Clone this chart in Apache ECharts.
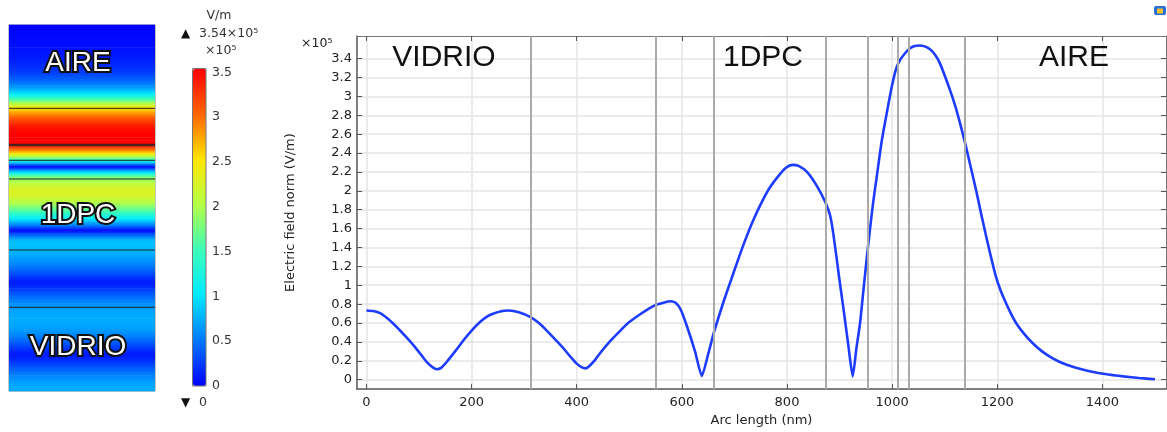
<!DOCTYPE html>
<html>
<head>
<meta charset="utf-8">
<script src="https://cdn.jsdelivr.net/npm/echarts@6/dist/echarts.min.js"></script>
<style>
  html, body { margin: 0; padding: 0; background: #fff; }
  #chart { width: 1167px; height: 432px; }
</style>
</head>
<body>
<div id="chart"></div>
<script>
// Electric field norm along the cut line through glass / 1D photonic crystal / air
// Arc length in nm
const arcLength = [
  0, 13, 26, 42, 58, 74, 90, 103, 115, 126, 134, 142, 153, 170, 185, 200, 216, 230, 242, 256,
  270, 290, 312, 328, 343, 360, 375, 390, 400, 410, 417, 425, 435, 445, 464, 483, 500, 520, 535, 550,
  565, 578, 588, 598, 610, 625, 638, 650, 661, 679, 692, 705, 720, 736, 752, 768, 787, 798, 810, 822,
  838, 857, 873, 882, 888, 900, 907, 917, 925, 932, 939, 946, 952, 958, 964, 971, 980, 990, 1000, 1008,
  1015, 1025, 1034, 1043, 1052, 1062, 1072, 1082, 1091, 1110, 1120, 1129, 1140, 1150, 1160, 1170, 1178, 1188, 1197, 1206,
  1215, 1226, 1237, 1252, 1268, 1284, 1300, 1316, 1332, 1348, 1364, 1383, 1402, 1420, 1440, 1470, 1500
];
// Electric field norm, in units of 1e5 V/m
const fieldNorm = [
  0.733, 0.727, 0.705, 0.64, 0.555, 0.46, 0.36, 0.27, 0.185, 0.13, 0.11, 0.125, 0.19, 0.31, 0.42, 0.52, 0.61, 0.67, 0.70, 0.725,
  0.733, 0.715, 0.663, 0.60, 0.52, 0.42, 0.33, 0.23, 0.17, 0.13, 0.12, 0.15, 0.21, 0.285, 0.41, 0.52, 0.61, 0.69, 0.745, 0.79,
  0.815, 0.83, 0.815, 0.74, 0.56, 0.30, 0.04, 0.27, 0.50, 0.82, 1.03, 1.24, 1.47, 1.69, 1.88, 2.04, 2.18, 2.245, 2.275, 2.265,
  2.20, 2.05, 1.88, 1.74, 1.55, 1.05, 0.77, 0.35, 0.035, 0.33, 0.60, 0.98, 1.30, 1.60, 1.88, 2.16, 2.52, 2.83, 3.12, 3.30,
  3.385, 3.46, 3.51, 3.535, 3.54, 3.53, 3.50, 3.44, 3.35, 3.07, 2.90, 2.72, 2.48, 2.24, 2.00, 1.74, 1.54, 1.30, 1.10, 0.95,
  0.83, 0.70, 0.59, 0.48, 0.383, 0.305, 0.244, 0.195, 0.157, 0.128, 0.105, 0.082, 0.063, 0.048, 0.035, 0.018, 0.004
];
// Material interfaces along the cut line (nm)
const interfaces = [312, 550, 661, 873, 953, 1011, 1032, 1138];
const regionNames = ['VIDRIO', '1DPC', 'AIRE'];

// Tick values
const xTicks = [0, 200, 400, 600, 800, 1000, 1200, 1400];
const yTicks = [0, 0.2, 0.4, 0.6, 0.8, 1, 1.2, 1.4, 1.6, 1.8, 2, 2.2, 2.4, 2.6, 2.8, 3, 3.2, 3.4];
const colorbarTicks = [0, 0.5, 1, 1.5, 2, 2.5, 3, 3.5];

// Cross-section geometry: arc length of each layer edge and its height in the 2D slab drawing
const layerArc = [0, 312, 550, 873, 953, 1011, 1032, 1138, 1500];
const layerHeight = [0, 83.7, 141, 212, 230.7, 245.3, 246.7, 282.7, 366];

// Rainbow colour table
const rainbow = ['#0000ff', '#0078ff', '#00eaff', '#3cffb8', '#b4ff46', '#ffe600', '#ff6400', '#ff0000'];

const fieldMax = Math.max(...fieldNorm);
const fieldMin = Math.min(...fieldNorm);

function slabHeight(s) {
  for (let i = 0; i < layerArc.length - 1; i++) {
    if (s <= layerArc[i + 1]) {
      const t = (s - layerArc[i]) / (layerArc[i + 1] - layerArc[i]);
      return layerHeight[i] + t * (layerHeight[i + 1] - layerHeight[i]);
    }
  }
  return layerHeight[layerHeight.length - 1];
}
function colorOf(v) {
  return echarts.color.lerp(Math.max(0, Math.min(1, v / fieldMax)), rainbow);
}

const curve = arcLength.map((s, i) => [s, fieldNorm[i]]);
const slabBands = [];
for (let i = 0; i < arcLength.length - 1; i++) {
  slabBands.push([slabHeight(arcLength[i]), slabHeight(arcLength[i + 1]), fieldNorm[i], fieldNorm[i + 1]]);
}
const slabEdges = layerHeight.slice(1, -1).map(h => [h]);

const chart = echarts.init(document.getElementById('chart'), null, { renderer: 'canvas' });
const FONT = 'DejaVu Sans';
const axisColor = '#555';
const plain = v => String(v);

chart.setOption({
  animation: false,
  backgroundColor: '#fff',
  textStyle: { fontFamily: FONT },
  grid: [
    { left: 357, top: 36, right: 1, bottom: 39, show: false },
    { left: 193, top: 68.8, width: 13, height: 317.2, show: false },
    { left: 9, top: 25, width: 146, height: 366, show: true, borderColor: '#888', borderWidth: 1, backgroundColor: 'transparent' }
  ],
  xAxis: [
    {
      gridIndex: 0, type: 'value', min: -18, max: 1521, position: 'bottom',
      name: 'Arc length (nm)', nameLocation: 'middle', nameGap: 20,
      nameTextStyle: { fontSize: 13, color: '#222', fontFamily: FONT },
      axisLine: { show: true, onZero: false, lineStyle: { color: axisColor, width: 1.5 } },
      axisTick: { show: true, inside: true, length: 5, customValues: xTicks, lineStyle: { color: axisColor } },
      axisLabel: { show: true, customValues: xTicks, formatter: plain, margin: 7, fontSize: 13, color: '#222', fontFamily: FONT },
      splitLine: { show: true, lineStyle: { color: '#e4e4e4', width: 1.5 } }
    },
    {
      gridIndex: 0, type: 'value', min: -18, max: 1521, position: 'top',
      axisLine: { show: true, onZero: false, lineStyle: { color: '#777', width: 1 } },
      axisTick: { show: true, inside: true, length: 5, customValues: xTicks, lineStyle: { color: axisColor } },
      axisLabel: { show: false }, splitLine: { show: false }
    },
    { gridIndex: 1, type: 'value', min: 0, max: 1, show: false },
    { gridIndex: 2, type: 'value', min: 0, max: 1, show: false }
  ],
  yAxis: [
    {
      gridIndex: 0, type: 'value', min: -0.1, max: 3.64, position: 'left',
      name: 'Electric field norm (V/m)', nameLocation: 'middle', nameGap: 60, nameRotate: 90,
      nameTextStyle: { fontSize: 13, color: '#222', fontFamily: FONT },
      axisLine: { show: true, onZero: false, lineStyle: { color: axisColor, width: 1.5 } },
      axisTick: { show: true, inside: true, length: 5, customValues: yTicks, lineStyle: { color: axisColor } },
      axisLabel: { show: true, customValues: yTicks, formatter: plain, margin: 5, fontSize: 13, color: '#222', fontFamily: FONT },
      splitLine: { show: true, lineStyle: { color: '#e4e4e4', width: 1.5 } }
    },
    {
      gridIndex: 0, type: 'value', min: -0.1, max: 3.64, position: 'right',
      axisLine: { show: true, onZero: false, lineStyle: { color: '#777', width: 1 } },
      axisTick: { show: true, inside: true, length: 5, customValues: yTicks, lineStyle: { color: axisColor } },
      axisLabel: { show: false }, splitLine: { show: false }
    },
    {
      gridIndex: 1, type: 'value', min: 0, max: fieldMax, position: 'right',
      axisLine: { show: false }, axisTick: { show: false }, splitLine: { show: false },
      axisLabel: { show: true, customValues: colorbarTicks, formatter: plain, margin: 6, fontSize: 12.5, color: '#333', fontFamily: FONT }
    },
    { gridIndex: 2, type: 'value', min: 0, max: layerHeight[layerHeight.length - 1], show: false }
  ],
  visualMap: {
    type: 'continuous', min: 0, max: fieldMax, orient: 'vertical',
    left: 193, top: 68.8, itemWidth: 13, itemHeight: 317.2, padding: 0,
    calculable: false, showLabel: false, text: ['', ''], hoverLink: false,
    inRange: { color: rainbow }, seriesIndex: 2
  },
  series: [
    {
      // material interfaces
      type: 'line', xAxisIndex: 0, yAxisIndex: 0, data: [], z: 1, silent: true,
      markLine: {
        silent: true, symbol: ['none', 'none'], label: { show: false },
        lineStyle: { color: '#aaaaaa', width: 2, type: 'solid' },
        data: interfaces.map(x => ({ xAxis: x }))
      }
    },
    {
      type: 'line', xAxisIndex: 0, yAxisIndex: 0, data: curve, z: 3,
      showSymbol: false, smooth: 0.2,
      lineStyle: { color: '#1e3cff', width: 2.6 }
    },
    {
      // field map of the cross section
      type: 'custom', xAxisIndex: 3, yAxisIndex: 3, data: slabBands, silent: true, z: 2,
      renderItem: function (params, api) {
        const p0 = api.coord([0, api.value(0)]);
        const p1 = api.coord([1, api.value(1)]);
        return {
          type: 'rect',
          shape: { x: p0[0], y: p1[1] - 0.3, width: p1[0] - p0[0], height: p0[1] - p1[1] + 0.6 },
          style: {
            fill: new echarts.graphic.LinearGradient(0, 0, 0, 1, [
              { offset: 0, color: colorOf(api.value(3)) },
              { offset: 1, color: colorOf(api.value(2)) }
            ])
          }
        };
      }
    },
    {
      // layer edges in the cross section
      type: 'custom', xAxisIndex: 3, yAxisIndex: 3, data: slabEdges, silent: true, z: 3,
      renderItem: function (params, api) {
        const a = api.coord([0, api.value(0)]);
        const b = api.coord([1, api.value(0)]);
        return { type: 'line', shape: { x1: a[0], y1: a[1], x2: b[0], y2: b[1] }, style: { stroke: '#222', lineWidth: 1 } };
      }
    }
  ],
  graphic: [
    // main plot scale factor and region names
    { type: 'text', z: 100, x: 301, y: 44, style: { text: '×10⁵', font: '12.5px "DejaVu Sans"', fill: '#222', verticalAlign: 'middle' } },
    { type: 'text', z: 100, x: 444, y: 58, style: { text: regionNames[0], font: '30px "Liberation Sans"', fill: '#111', align: 'center', verticalAlign: 'middle' } },
    { type: 'text', z: 100, x: 763, y: 58, style: { text: regionNames[1], font: '30px "Liberation Sans"', fill: '#111', align: 'center', verticalAlign: 'middle' } },
    { type: 'text', z: 100, x: 1074, y: 58, style: { text: regionNames[2], font: '30px "Liberation Sans"', fill: '#111', align: 'center', verticalAlign: 'middle' } },
    // cross-section labels
    { type: 'text', x: 78, y: 63.5, z: 100, style: { text: regionNames[2], font: '28px "Liberation Sans"', fill: '#fff', stroke: '#111', lineWidth: 4, strokeFirst: true, align: 'center', verticalAlign: 'middle' } },
    { type: 'text', x: 78, y: 215.5, z: 100, style: { text: regionNames[1], font: '28px "Liberation Sans"', fill: '#fff', stroke: '#111', lineWidth: 4, strokeFirst: true, align: 'center', verticalAlign: 'middle' } },
    { type: 'text', x: 78, y: 347.5, z: 100, style: { text: regionNames[0], font: '28px "Liberation Sans"', fill: '#fff', stroke: '#111', lineWidth: 4, strokeFirst: true, align: 'center', verticalAlign: 'middle' } },
    // colour bar header / footer
    { type: 'text', x: 219, y: 16, style: { text: 'V/m', font: '12.5px "DejaVu Sans"', fill: '#333', align: 'center', verticalAlign: 'middle' } },
    { type: 'text', x: 181, y: 34, style: { text: '▲', font: '12px "DejaVu Sans"', fill: '#111', verticalAlign: 'middle' } },
    { type: 'text', x: 199, y: 34, style: { text: fieldMax.toFixed(2) + '×10⁵', font: '12.5px "DejaVu Sans"', fill: '#333', verticalAlign: 'middle' } },
    { type: 'text', x: 205, y: 51, style: { text: '×10⁵', font: '12.5px "DejaVu Sans"', fill: '#333', verticalAlign: 'middle' } },
    { type: 'text', x: 181, y: 403, style: { text: '▼', font: '12px "DejaVu Sans"', fill: '#111', verticalAlign: 'middle' } },
    { type: 'text', x: 199, y: 403, style: { text: String(Math.round(fieldMin * 10) / 10), font: '12.5px "DejaVu Sans"', fill: '#333', verticalAlign: 'middle' } },
    { type: 'rect', z: 10, shape: { x: 192.5, y: 68.5, width: 13.5, height: 317.5 }, style: { fill: 'none', stroke: '#777', lineWidth: 1 } },
    // window badge
    { type: 'rect', z: 10, shape: { x: 1154, y: 6, width: 12, height: 9, r: 2 }, style: { fill: '#2a6fd6' } },
    { type: 'rect', z: 11, shape: { x: 1157, y: 8.5, width: 6, height: 5 }, style: { fill: '#f2c230' } }
  ]
});
</script>
</body>
</html>
